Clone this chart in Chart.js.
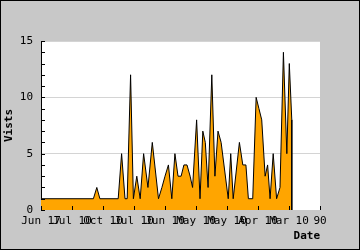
<!DOCTYPE html>
<html>
<head>
<meta charset="utf-8">
<script src="https://cdn.jsdelivr.net/npm/chart.js@4"></script>
<style>
  html, body { margin: 0; padding: 0; background: #c8c8c8; }
  canvas { display: block; }
</style>
</head>
<body>
<canvas id="visitsChart" width="360" height="250"></canvas>
<script>
// tick labels along the date axis (one per axis unit)
const tickLabels = ['Jun 17', 'Jul 10', 'Oct 10', 'Jul 10', 'Jun 10', 'May 10', 'May 10', 'Apr 10', 'Mar 10', '90'];

// position of each sample on the date axis (axis units) and visits
const datePos = [0.00, 1.69, 1.80, 1.90, 2.49, 2.60, 2.71, 2.78, 2.89, 2.98,
                 3.09, 3.20, 3.31, 3.45, 3.59, 3.79, 3.90, 4.00, 4.11, 4.22,
                 4.32, 4.42, 4.52, 4.61, 4.71, 4.81, 4.89, 5.02, 5.13, 5.22,
                 5.30, 5.39, 5.51, 5.61, 5.71, 5.81, 6.04, 6.12, 6.20, 6.40,
                 6.51, 6.61, 6.69, 6.83, 6.94, 7.03, 7.12, 7.23, 7.31, 7.39,
                 7.49, 7.60, 7.71, 7.82, 7.93, 8.01, 8.09, 8.09];
const visits  = [1, 1, 2, 1, 1, 5, 1, 1, 12, 1,
                 3, 1, 5, 2, 6, 1, 2, 3, 4, 1,
                 5, 3, 3, 4, 4, 3, 2, 8, 1, 7,
                 6, 2, 12, 3, 7, 6, 1, 5, 1, 6,
                 4, 4, 1, 1, 10, 9, 8, 3, 4, 1,
                 5, 1, 2, 14, 5, 13, 8, 0];

Chart.defaults.font.family = "'DejaVu Sans Mono', monospace";
Chart.defaults.font.size = 11;
Chart.defaults.color = '#000';

// gray page, white plot area, outer frame and inward tick marks
const frame = {
    id: 'frame',
    beforeDraw(chart) {
        const { ctx, chartArea: a, width, height } = chart;
        ctx.save();
        ctx.fillStyle = '#c8c8c8';
        ctx.fillRect(0, 0, width, height);
        ctx.fillStyle = '#fff';
        ctx.fillRect(a.left, a.top, a.right - a.left, a.bottom - a.top);
        ctx.restore();
    },
    afterDatasetsDraw(chart) {
        const { ctx, chartArea: a, scales } = chart;
        ctx.save();
        ctx.strokeStyle = '#000';
        ctx.lineWidth = 1;
        ctx.beginPath();
        scales.y.ticks.forEach(t => {
            const y = Math.round(scales.y.getPixelForValue(t.value)) + 0.5;
            ctx.moveTo(a.left, y);
            ctx.lineTo(a.left + 4, y);
        });
        scales.x.ticks.forEach(t => {
            const x = Math.round(scales.x.getPixelForValue(t.value)) + 0.5;
            ctx.moveTo(x, a.bottom);
            ctx.lineTo(x, a.bottom - 4);
        });
        ctx.stroke();
        ctx.restore();
    },
    afterDraw(chart) {
        const { ctx, width, height } = chart;
        ctx.save();
        ctx.strokeStyle = '#000';
        ctx.lineWidth = 1;
        ctx.strokeRect(0.5, 0.5, width - 1, height - 1);
        ctx.restore();
    }
};

const ctx = document.getElementById('visitsChart').getContext('2d');
const visitsChart = new Chart(ctx, {
    type: 'line',
    data: {
        datasets: [{
            data: datePos.map((x, i) => ({ x: x, y: visits[i] })),
            borderColor: '#000',
            backgroundColor: '#ffa500',
            borderWidth: 1,
            fill: 'origin',
            pointRadius: 0,
            tension: 0
        }]
    },
    options: {
        responsive: false,
        devicePixelRatio: 1,
        animation: false,
        layout: { padding: { left: 0, right: 40, top: 41, bottom: 0 } },
        plugins: { legend: { display: false }, tooltip: { enabled: false } },
        scales: {
            x: {
                type: 'linear',
                min: 0,
                max: 9,
                afterFit(s) { s.height = 40; },
                grid: { display: false, drawTicks: false },
                border: { display: false },
                ticks: {
                    stepSize: 1,
                    autoSkip: false,
                    maxRotation: 0,
                    padding: 5,
                    callback: (v, i) => tickLabels[i]
                },
                title: {
                    display: true,
                    text: 'Date',
                    align: 'end',
                    font: { weight: 'bold', size: 11 },
                    padding: { top: 0, bottom: 7 }
                }
            },
            y: {
                min: 0,
                max: 15,
                afterFit(s) { s.width = 41; },
                grid: {
                    drawTicks: false,
                    color: c => (c.tick.value > 0 && c.tick.value % 5 === 0) ? '#d4d4d4' : 'rgba(0,0,0,0)'
                },
                border: { display: true, color: '#000', width: 1 },
                ticks: {
                    stepSize: 1,
                    autoSkip: false,
                    padding: 8,
                    callback: v => (v % 5 === 0 ? v : '')
                },
                title: {
                    display: true,
                    text: 'Vists',
                    font: { weight: 'bold', size: 11 },
                    padding: { top: 3, bottom: 0 }
                }
            }
        }
    },
    plugins: [frame]
});
</script>
</body>
</html>
